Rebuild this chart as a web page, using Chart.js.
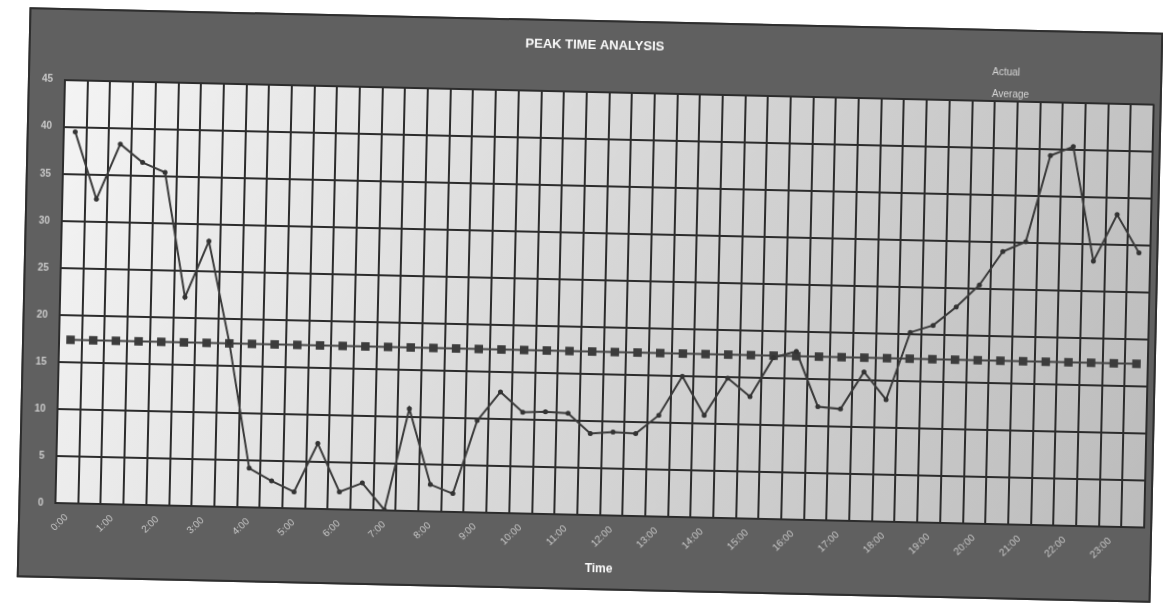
<!DOCTYPE html>
<html>
<head>
<meta charset="utf-8">
<script src="https://cdn.jsdelivr.net/npm/chart.js@4.4.1/dist/chart.umd.min.js"></script>
<style>
  body { margin: 0; background: #fff; font-family: 'Liberation Sans', Arial, sans-serif; }
  #frame {
    position: absolute; left: 23px; top: 20px; width: 1134px; height: 570px;
    box-sizing: border-box; border: 2px solid #2e2e2e; background: #606060;
    transform: rotate(1.29deg);
  }
  #legend { position: absolute; left: 962px; top: 30px; color: #d4d4d4; font-size: 10px; line-height: 22px; }
</style>
</head>
<body>
<div id="frame">
  <canvas id="peakChart" width="1130" height="566"></canvas>
  <div id="legend"></div>
</div>
<script>
const timeLabels = [
  '0:00','0:30','1:00','1:30','2:00','2:30','3:00','3:30','4:00','4:30','5:00','5:30',
  '6:00','6:30','7:00','7:30','8:00','8:30','9:00','9:30','10:00','10:30','11:00','11:30',
  '12:00','12:30','13:00','13:30','14:00','14:30','15:00','15:30','16:00','16:30','17:00','17:30',
  '18:00','18:30','19:00','19:30','20:00','20:30','21:00','21:30','22:00','22:30','23:00','23:30'
];

const actualValues = [
  39.5, 32.4, 38.3, 36.4, 35.4, 22.2, 28.2, 17.5, 4.2, 2.9, 1.8, 7.0,
  1.9, 2.9, 0.1, 10.9, 2.9, 2.0, 9.8, 12.9, 10.8, 10.9, 10.8, 8.7,
  8.9, 8.8, 10.8, 15.0, 10.9, 14.9, 13.0, 17.2, 17.9, 12.1, 11.9, 15.9,
  13.0, 20.2, 21.0, 23.0, 25.4, 29.0, 30.1, 39.3, 40.3, 28.2, 33.2, 29.2
];

const averageValues = [
  17.4, 17.4, 17.4, 17.4, 17.4, 17.4, 17.4, 17.4, 17.4, 17.4, 17.4, 17.4,
  17.4, 17.4, 17.4, 17.4, 17.4, 17.4, 17.4, 17.4, 17.4, 17.4, 17.4, 17.4,
  17.4, 17.4, 17.4, 17.4, 17.4, 17.4, 17.4, 17.4, 17.4, 17.4, 17.4, 17.4,
  17.4, 17.4, 17.4, 17.4, 17.4, 17.4, 17.4, 17.4, 17.4, 17.4, 17.4, 17.4
];

const yMax = 45;
const yStep = 5;

// light plot area, a bit greyer to the bottom right like the copy
const plotBackground = {
  id: 'plotBackground',
  beforeDraw(chart) {
    const { ctx, chartArea } = chart;
    const g = ctx.createLinearGradient(chartArea.left, chartArea.top, chartArea.right, chartArea.bottom);
    g.addColorStop(0, '#f4f4f4');
    g.addColorStop(0.5, '#d6d6d6');
    g.addColorStop(1, '#bcbcbc');
    ctx.save();
    ctx.fillStyle = g;
    ctx.fillRect(chartArea.left, chartArea.top, chartArea.right - chartArea.left, chartArea.bottom - chartArea.top);
    ctx.restore();
  }
};

const ctx = document.getElementById('peakChart').getContext('2d');
const chart = new Chart(ctx, {
  type: 'line',
  data: {
    labels: timeLabels,
    datasets: [
      {
        label: 'Actual',
        data: actualValues,
        borderColor: '#3a3a3a',
        backgroundColor: '#333',
        borderWidth: 2,
        pointRadius: 2.5,
        pointBorderWidth: 0,
        tension: 0
      },
      {
        label: 'Average',
        data: averageValues,
        borderColor: '#444',
        backgroundColor: '#3c3c3c',
        borderWidth: 2,
        pointStyle: 'rect',
        pointRadius: 6,
        pointBorderWidth: 0,
        tension: 0
      }
    ]
  },
  options: {
    responsive: false,
    animation: false,
    layout: { padding: { left: 0, right: 2, bottom: 6 } },
    plugins: {
      legend: { display: false },
      tooltip: { enabled: false },
      title: {
        display: true,
        text: 'PEAK TIME ANALYSIS',
        color: '#fafafa',
        font: { size: 13, weight: 'bold', family: 'Liberation Sans' },
        padding: { top: 16, bottom: 38 }
      }
    },
    scales: {
      x: {
        offset: true,
        grid: { offset: true, color: '#2c2c2c', lineWidth: 2, drawTicks: false },
        border: { color: '#2c2c2c', width: 2 },
        ticks: {
          autoSkip: false,
          maxRotation: 45,
          minRotation: 45,
          padding: 8,
          color: '#c8c8c8',
          font: { size: 10, family: 'Liberation Sans' },
          callback: function (value, index) {
            return index % 2 === 0 ? this.getLabelForValue(value) : '';
          }
        },
        title: {
          display: true,
          text: 'Time',
          color: '#fafafa',
          font: { size: 12, weight: 'bold', family: 'Liberation Sans' },
          padding: { top: 4, bottom: 6 }
        }
      },
      y: {
        min: 0,
        max: yMax,
        grid: { color: '#2c2c2c', lineWidth: 2, drawTicks: false },
        border: { color: '#2c2c2c', width: 2 },
        ticks: {
          stepSize: yStep,
          padding: 12,
          color: '#c8c8c8',
          font: { size: 10, weight: 'bold', family: 'Liberation Sans' }
        }
      }
    }
  },
  plugins: [plotBackground]
});

document.getElementById('legend').innerHTML = chart.data.datasets
  .map(ds => `<div>${ds.label}</div>`).join('');
</script>
</body>
</html>
